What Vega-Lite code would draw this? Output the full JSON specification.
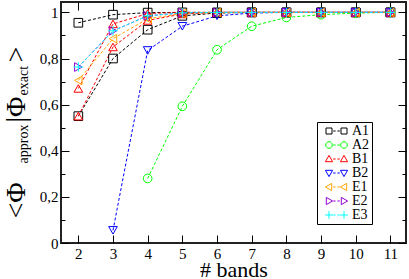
{
  "$schema": "https://vega.github.io/schema/vega-lite/v6.json",
  "autosize": {"type": "none"},
  "padding": {"left": 61, "top": 2, "right": 3, "bottom": 36},
  "width": 345,
  "height": 241,
  "background": "white",
  "config": {
    "view": {"stroke": "#222", "strokeWidth": 2},
    "font": "Liberation Serif",
    "axis": {"domain": false, "grid": false, "tickColor": "black", "tickWidth": 1, "labelFont": "Liberation Serif", "labelFontSize": 15, "labelColor": "black", "titleFont": "Liberation Serif", "titleFontWeight": "normal", "titleColor": "black"},
    "legend": {"labelFont": "Liberation Serif", "orient": "none", "legendX": 256, "legendY": 120, "strokeColor": "black", "fillColor": "white", "padding": 2, "symbolOffset": 3, "rowPadding": 0, "labelFontSize": 14, "labelColor": "black", "symbolSize": 36, "symbolStrokeWidth": 1, "labelOffset": 16}
  },
  "data": {"values": [
    {"s": "A1", "g": "A1a", "x": 2, "y": 0.955}, {"s": "A1", "g": "A1a", "x": 3, "y": 0.99}, {"s": "A1", "g": "A1a", "x": 4, "y": 0.999}, {"s": "A1", "g": "A1a", "x": 5, "y": 1}, {"s": "A1", "g": "A1a", "x": 6, "y": 1}, {"s": "A1", "g": "A1a", "x": 7, "y": 1}, {"s": "A1", "g": "A1a", "x": 8, "y": 1}, {"s": "A1", "g": "A1a", "x": 9, "y": 1}, {"s": "A1", "g": "A1a", "x": 10, "y": 1}, {"s": "A1", "g": "A1a", "x": 11, "y": 1},
    {"s": "A1", "g": "A1b", "x": 2, "y": 0.55}, {"s": "A1", "g": "A1b", "x": 3, "y": 0.80}, {"s": "A1", "g": "A1b", "x": 4, "y": 0.925}, {"s": "A1", "g": "A1b", "x": 5, "y": 0.985}, {"s": "A1", "g": "A1b", "x": 6, "y": 0.997}, {"s": "A1", "g": "A1b", "x": 7, "y": 1}, {"s": "A1", "g": "A1b", "x": 8, "y": 1}, {"s": "A1", "g": "A1b", "x": 9, "y": 1}, {"s": "A1", "g": "A1b", "x": 10, "y": 1}, {"s": "A1", "g": "A1b", "x": 11, "y": 1},
    {"s": "A2", "g": "A2", "x": 4, "y": 0.28}, {"s": "A2", "g": "A2", "x": 5, "y": 0.593}, {"s": "A2", "g": "A2", "x": 6, "y": 0.838}, {"s": "A2", "g": "A2", "x": 7, "y": 0.94}, {"s": "A2", "g": "A2", "x": 8, "y": 0.978}, {"s": "A2", "g": "A2", "x": 9, "y": 0.99}, {"s": "A2", "g": "A2", "x": 10, "y": 0.997}, {"s": "A2", "g": "A2", "x": 11, "y": 1},
    {"s": "B1", "g": "B1a", "x": 2, "y": 0.67}, {"s": "B1", "g": "B1a", "x": 3, "y": 0.95}, {"s": "B1", "g": "B1a", "x": 4, "y": 0.995}, {"s": "B1", "g": "B1a", "x": 5, "y": 1}, {"s": "B1", "g": "B1a", "x": 6, "y": 1}, {"s": "B1", "g": "B1a", "x": 7, "y": 1}, {"s": "B1", "g": "B1a", "x": 8, "y": 1}, {"s": "B1", "g": "B1a", "x": 9, "y": 1}, {"s": "B1", "g": "B1a", "x": 10, "y": 1}, {"s": "B1", "g": "B1a", "x": 11, "y": 1},
    {"s": "B1", "g": "B1b", "x": 2, "y": 0.55}, {"s": "B1", "g": "B1b", "x": 3, "y": 0.85}, {"s": "B1", "g": "B1b", "x": 4, "y": 0.965}, {"s": "B1", "g": "B1b", "x": 5, "y": 0.993}, {"s": "B1", "g": "B1b", "x": 6, "y": 1}, {"s": "B1", "g": "B1b", "x": 7, "y": 1}, {"s": "B1", "g": "B1b", "x": 8, "y": 1}, {"s": "B1", "g": "B1b", "x": 9, "y": 1}, {"s": "B1", "g": "B1b", "x": 10, "y": 1}, {"s": "B1", "g": "B1b", "x": 11, "y": 1},
    {"s": "B2", "g": "B2", "x": 3, "y": 0.055}, {"s": "B2", "g": "B2", "x": 4, "y": 0.835}, {"s": "B2", "g": "B2", "x": 5, "y": 0.94}, {"s": "B2", "g": "B2", "x": 6, "y": 0.985}, {"s": "B2", "g": "B2", "x": 7, "y": 0.997}, {"s": "B2", "g": "B2", "x": 8, "y": 1}, {"s": "B2", "g": "B2", "x": 9, "y": 1}, {"s": "B2", "g": "B2", "x": 10, "y": 1}, {"s": "B2", "g": "B2", "x": 11, "y": 1},
    {"s": "E1", "g": "E1", "x": 2, "y": 0.705}, {"s": "E1", "g": "E1", "x": 3, "y": 0.886}, {"s": "E1", "g": "E1", "x": 4, "y": 0.972}, {"s": "E1", "g": "E1", "x": 5, "y": 0.995}, {"s": "E1", "g": "E1", "x": 6, "y": 1}, {"s": "E1", "g": "E1", "x": 7, "y": 1}, {"s": "E1", "g": "E1", "x": 8, "y": 1}, {"s": "E1", "g": "E1", "x": 9, "y": 1}, {"s": "E1", "g": "E1", "x": 10, "y": 1}, {"s": "E1", "g": "E1", "x": 11, "y": 1},
    {"s": "E2", "g": "E2", "x": 2, "y": 0.763}, {"s": "E2", "g": "E2", "x": 3, "y": 0.92}, {"s": "E2", "g": "E2", "x": 4, "y": 0.985}, {"s": "E2", "g": "E2", "x": 5, "y": 0.998}, {"s": "E2", "g": "E2", "x": 6, "y": 1}, {"s": "E2", "g": "E2", "x": 7, "y": 1}, {"s": "E2", "g": "E2", "x": 8, "y": 1}, {"s": "E2", "g": "E2", "x": 9, "y": 1}, {"s": "E2", "g": "E2", "x": 10, "y": 1}, {"s": "E2", "g": "E2", "x": 11, "y": 1},
    {"s": "E3", "g": "E3", "x": 2, "y": 0.763}, {"s": "E3", "g": "E3", "x": 3, "y": 0.92}, {"s": "E3", "g": "E3", "x": 4, "y": 0.985}, {"s": "E3", "g": "E3", "x": 5, "y": 0.998}, {"s": "E3", "g": "E3", "x": 6, "y": 1}, {"s": "E3", "g": "E3", "x": 7, "y": 1}, {"s": "E3", "g": "E3", "x": 8, "y": 1}, {"s": "E3", "g": "E3", "x": 9, "y": 1}, {"s": "E3", "g": "E3", "x": 10, "y": 1}, {"s": "E3", "g": "E3", "x": 11, "y": 1}
  ]},
  "resolve": {"scale": {"y": "independent"}, "axis": {"y": "independent", "x": "independent"}},
  "layer": [
    {
      "mark": {"type": "line", "strokeWidth": 1, "strokeDash": [3, 2]},
      "encoding": {
        "x": {"field": "x", "type": "quantitative", "scale": {"domain": [1.5, 11.45], "nice": false, "zero": false},
              "axis": {"orient": "bottom", "values": [2,3,4,5,6,7,8,9,10,11], "tickSize": -8, "labelPadding": 11, "labelFont": "Liberation Serif", "title": "# bands", "titleFont": "Liberation Serif", "titleFontSize": 22, "titleX": 172.5, "titleY": 33, "titleAlign": "center", "titleBaseline": "alphabetic"}},
        "y": {"field": "y", "type": "quantitative", "scale": {"domain": [0, 1.045], "nice": false, "zero": false},
              "axis": {"orient": "left", "values": [0, 0.2, 0.4, 0.6, 0.8, 1], "tickSize": -8, "labelPadding": 11, "labelFont": "Liberation Serif", "labelExpr": "replace(format(datum.value, '~g'), '.', ',')", "title": "<Φ", "titleFont": "Liberation Serif", "titleFontSize": 28, "titleAngle": -90, "titleAlign": "left", "titleBaseline": "alphabetic", "titleX": -37, "titleY": 216}},
        "color": {"field": "s", "type": "nominal", "scale": {"domain": ["A1","A2","B1","B2","E1","E2","E3"], "range": ["#000000","#00ff00","#ff0000","#0000ff","#ffa500","#9400d3","#00ffff"]},
                  "legend": {"title": null, "encode": {"symbols": {"update": {"fill": {"value": "transparent"}, "strokeDash": {"value": []}, "shape": {"signal": "datum.value === 'A1' ? 'M-1,-1H1V1H-1ZM4,-1H6V1H4ZM1.4,0H2.2M2.8,0H3.6' : datum.value === 'A2' ? 'M-1.1,0A1.1,1.1 0 1,0 1.1,0A1.1,1.1 0 1,0 -1.1,0ZM3.9,0A1.1,1.1 0 1,0 6.1,0A1.1,1.1 0 1,0 3.9,0ZM1.4,0H2.2M2.8,0H3.6' : datum.value === 'B1' ? 'M0,-1.2L1.2,0.9L-1.2,0.9ZM5,-1.2L6.2,0.9L3.8,0.9ZM1.4,0H2.2M2.8,0H3.6' : datum.value === 'B2' ? 'M0,1.2L1.2,-0.9L-1.2,-0.9ZM5,1.2L6.2,-0.9L3.8,-0.9ZM1.4,0H2.2M2.8,0H3.6' : datum.value === 'E1' ? 'M-1.2,0L0.9,-1.2L0.9,1.2ZM3.8,0L5.9,-1.2L5.9,1.2ZM1.4,0H2.2M2.8,0H3.6' : datum.value === 'E2' ? 'M1.2,0L-0.9,-1.2L-0.9,1.2ZM6.2,0L4.1,-1.2L4.1,1.2ZM1.4,0H2.2M2.8,0H3.6' : 'M-1.3,0H1.3M0,-1.3V1.3M3.7,0H6.3M5,-1.3V1.3M1.4,0H2.2M2.8,0H3.6'"}}}}}},
        "detail": {"field": "g"}
      }
    },
    {
      "mark": {"type": "point", "filled": false, "strokeWidth": 1, "size": 75, "opacity": 1},
      "encoding": {
        "x": {"field": "x", "type": "quantitative",
              "axis": {"orient": "top", "values": [2,3,4,5,6,7,8,9,10,11], "tickSize": -8, "labels": false, "title": ">", "titleFont": "Liberation Serif", "titleFontSize": 28, "titleAngle": -90, "titleAlign": "left", "titleBaseline": "alphabetic", "titleX": -37, "titleY": 60}},
        "y": {"field": "y", "type": "quantitative", "scale": {"domain": [0, 1.045], "nice": false, "zero": false},
              "axis": {"orient": "right", "values": [0, 0.2, 0.4, 0.6, 0.8, 1], "tickSize": -8, "labels": false, "title": "|Φ", "titleFont": "Liberation Serif", "titleFontSize": 28, "titleAngle": -90, "titleAlign": "left", "titleBaseline": "alphabetic", "titleX": -382, "titleY": 120}},
        "color": {"field": "s", "type": "nominal",
                  "legend": {"title": null, "encode": {"symbols": {"update": {"fill": {"value": "transparent"}, "strokeDash": {"value": []}, "shape": {"signal": "datum.value === 'A1' ? 'M-1,-1H1V1H-1ZM4,-1H6V1H4ZM1.4,0H2.2M2.8,0H3.6' : datum.value === 'A2' ? 'M-1.1,0A1.1,1.1 0 1,0 1.1,0A1.1,1.1 0 1,0 -1.1,0ZM3.9,0A1.1,1.1 0 1,0 6.1,0A1.1,1.1 0 1,0 3.9,0ZM1.4,0H2.2M2.8,0H3.6' : datum.value === 'B1' ? 'M0,-1.2L1.2,0.9L-1.2,0.9ZM5,-1.2L6.2,0.9L3.8,0.9ZM1.4,0H2.2M2.8,0H3.6' : datum.value === 'B2' ? 'M0,1.2L1.2,-0.9L-1.2,-0.9ZM5,1.2L6.2,-0.9L3.8,-0.9ZM1.4,0H2.2M2.8,0H3.6' : datum.value === 'E1' ? 'M-1.2,0L0.9,-1.2L0.9,1.2ZM3.8,0L5.9,-1.2L5.9,1.2ZM1.4,0H2.2M2.8,0H3.6' : datum.value === 'E2' ? 'M1.2,0L-0.9,-1.2L-0.9,1.2ZM6.2,0L4.1,-1.2L4.1,1.2ZM1.4,0H2.2M2.8,0H3.6' : 'M-1.3,0H1.3M0,-1.3V1.3M3.7,0H6.3M5,-1.3V1.3M1.4,0H2.2M2.8,0H3.6'"}}}}}},
        "shape": {"field": "g", "type": "nominal", "scale": {"domain": ["A1a","A1b","A2","B1a","B1b","B2","E1","E2","E3"], "range": ["square","square","circle","triangle-up","triangle-up","triangle-down","triangle-left","triangle-right","M-1.1,0H1.1M0,-1.1V1.1"]}, "legend": null}
      }
    },
    {
      "mark": {"type": "point", "opacity": 0},
      "encoding": {
        "x": {"field": "x", "type": "quantitative", "axis": null},
        "y": {"field": "y", "type": "quantitative", "scale": {"domain": [0, 1.045], "nice": false, "zero": false},
              "axis": {"orient": "left", "values": [0.1, 0.3, 0.5, 0.7, 0.9], "tickSize": -4, "labels": false, "title": "approx", "titleFont": "Liberation Serif", "titleFontSize": 14, "titleAngle": -90, "titleAlign": "left", "titleBaseline": "alphabetic", "titleX": -34, "titleY": 161}}
      }
    },
    {
      "mark": {"type": "point", "opacity": 0},
      "encoding": {
        "x": {"field": "x", "type": "quantitative", "axis": null},
        "y": {"field": "y", "type": "quantitative", "scale": {"domain": [0, 1.045], "nice": false, "zero": false},
              "axis": {"orient": "right", "values": [0.1, 0.3, 0.5, 0.7, 0.9], "tickSize": -4, "labels": false, "title": "exact", "titleFont": "Liberation Serif", "titleFontSize": 14, "titleAngle": -90, "titleAlign": "left", "titleBaseline": "alphabetic", "titleX": -379, "titleY": 93}}
      }
    }
  ]
}
